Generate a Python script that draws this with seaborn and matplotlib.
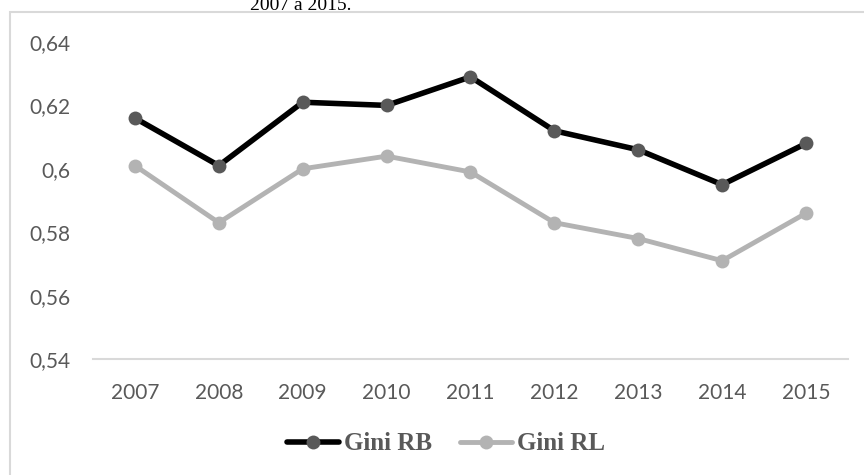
import matplotlib
matplotlib.use("Agg")
import matplotlib.pyplot as plt
from matplotlib.patches import Rectangle
import seaborn as sns
import pandas as pd

# Gini index by year for the two series
years = ["2007", "2008", "2009", "2010", "2011", "2012", "2013", "2014", "2015"]
gini_rb = [0.616, 0.601, 0.621, 0.620, 0.629, 0.612, 0.606, 0.595, 0.608]
gini_rl = [0.601, 0.583, 0.600, 0.604, 0.599, 0.583, 0.578, 0.571, 0.586]
series_names = ["Gini RB", "Gini RL"]
y_ticks = [0.54, 0.56, 0.58, 0.60, 0.62, 0.64]
y_tick_labels = ["0,54", "0,56", "0,58", "0,6", "0,62", "0,64"]
caption_tail = "2007 a 2015."

sns.set_theme(style="white")
plt.rcParams["font.family"] = ["Lato", "DejaVu Sans"]

fig = plt.figure(figsize=(8.64, 4.75), dpi=100)
ax = fig.add_axes([93 / 864, 1 - 359 / 475, (848 - 93) / 864, (359 - 42) / 475])

df = pd.DataFrame({
    "Ano": years * 2,
    "Gini": gini_rb + gini_rl,
    "Serie": [series_names[0]] * len(years) + [series_names[1]] * len(years),
})

styles = {
    series_names[0]: dict(line="#000000", marker="#595959", lw=4.0),
    series_names[1]: dict(line="#b3b3b3", marker="#b3b3b3", lw=3.5),
}

handles = []
for name in series_names:
    st = styles[name]
    sub = df[df["Serie"] == name]
    sns.lineplot(data=sub, x="Ano", y="Gini", ax=ax, color=st["line"],
                 linewidth=st["lw"], marker="o", markersize=10,
                 markerfacecolor=st["marker"], markeredgecolor=st["marker"],
                 markeredgewidth=0, solid_joinstyle="round", legend=False)
    handles.append(ax.get_lines()[-1])

ax.set_xlim(-0.5, len(years) - 0.5)
ax.set_ylim(y_ticks[0], y_ticks[-1])
ax.set_yticks(y_ticks)
ax.set_yticklabels(y_tick_labels)
ax.set_xlabel("")
ax.set_ylabel("")
ax.tick_params(axis="both", length=0, labelsize=15, labelcolor="#595959")
ax.tick_params(axis="y", pad=16)
ax.tick_params(axis="x", pad=17)
for side in ["top", "left", "right"]:
    ax.spines[side].set_visible(False)
ax.spines["bottom"].set_color("#d9d9d9")
ax.spines["bottom"].set_linewidth(1.5)
ax.grid(False)

# chart frame
fig.patches.append(Rectangle((10 / 864, -0.1), 2.0, 1 - 12 / 475 + 0.1,
                             transform=fig.transFigure, fill=False,
                             edgecolor="#d9d9d9", linewidth=1.5, zorder=0))

# caption line above the frame
fig.text(301 / 864, 1 - 10 / 475, caption_tail, ha="center", va="baseline",
         family=["Liberation Serif"], fontsize=14, color="#000000")

leg = fig.legend(handles, series_names, loc="center",
                 bbox_to_anchor=(446 / 864, 1 - 444 / 475), ncol=2,
                 frameon=False, handlelength=2.1, handletextpad=0.2,
                 columnspacing=1.1,
                 prop={"family": "Liberation Serif", "weight": "bold", "size": 18})
for t in leg.get_texts():
    t.set_color("#595959")

fig.savefig("out.png", dpi=100)
